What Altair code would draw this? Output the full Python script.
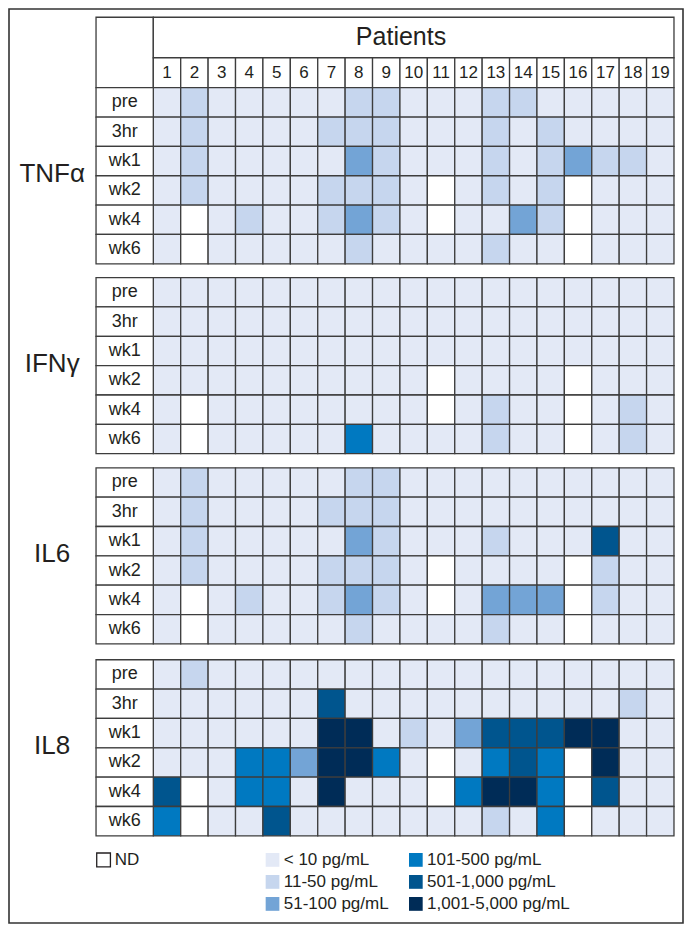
import altair as alt
import pandas as pd

# ---------------- data ----------------
patients = list(range(1, 20))
timepoints = ["pre", "3hr", "wk1", "wk2", "wk4", "wk6"]
cytokines = ["TNFα", "IFNγ", "IL6", "IL8"]

# level codes: 0 = ND, 1 = <10, 2 = 11-50, 3 = 51-100, 4 = 101-500, 5 = 501-1,000, 6 = 1,001-5,000
level_labels = ["ND", "< 10 pg/mL", "11-50 pg/mL", "51-100 pg/mL",
                "101-500 pg/mL", "501-1,000 pg/mL", "1,001-5,000 pg/mL"]
level_colors = ["#ffffff", "#e3e9f6", "#c6d6ee", "#73a4d6",
                "#0079c1", "#00558e", "#002c57"]

tnfa = [
    [1, 2, 1, 1, 1, 1, 1, 2, 2, 1, 1, 1, 2, 2, 1, 1, 1, 1, 1],
    [1, 2, 1, 1, 1, 1, 2, 2, 2, 1, 1, 1, 2, 1, 2, 1, 1, 1, 1],
    [1, 2, 1, 1, 1, 1, 1, 3, 2, 1, 1, 1, 2, 1, 2, 3, 2, 2, 1],
    [1, 2, 1, 1, 1, 1, 2, 2, 2, 1, 0, 1, 2, 1, 2, 0, 1, 1, 1],
    [1, 0, 1, 2, 1, 1, 2, 3, 2, 1, 0, 1, 1, 3, 2, 0, 1, 1, 1],
    [1, 0, 1, 1, 1, 1, 1, 2, 1, 1, 1, 1, 2, 1, 1, 0, 1, 1, 1],
]
ifng = [
    [1, 1, 1, 1, 1, 1, 1, 1, 1, 1, 1, 1, 1, 1, 1, 1, 1, 1, 1],
    [1, 1, 1, 1, 1, 1, 1, 1, 1, 1, 1, 1, 1, 1, 1, 1, 1, 1, 1],
    [1, 1, 1, 1, 1, 1, 1, 1, 1, 1, 1, 1, 1, 1, 1, 1, 1, 1, 1],
    [1, 1, 1, 1, 1, 1, 1, 1, 1, 1, 0, 1, 1, 1, 1, 0, 1, 1, 1],
    [1, 0, 1, 1, 1, 1, 1, 1, 1, 1, 0, 1, 2, 1, 1, 0, 1, 2, 1],
    [1, 0, 1, 1, 1, 1, 1, 4, 1, 1, 1, 1, 2, 1, 1, 0, 1, 2, 1],
]
il6 = [
    [1, 2, 1, 1, 1, 1, 1, 2, 2, 1, 1, 1, 1, 1, 1, 1, 1, 1, 1],
    [1, 2, 1, 1, 1, 1, 2, 2, 2, 1, 1, 1, 1, 1, 1, 1, 1, 1, 1],
    [1, 2, 1, 1, 1, 1, 1, 3, 2, 1, 1, 1, 2, 1, 1, 1, 5, 1, 1],
    [1, 2, 1, 1, 1, 1, 2, 2, 2, 1, 0, 1, 1, 1, 1, 0, 2, 1, 1],
    [1, 0, 1, 2, 1, 1, 2, 3, 2, 1, 0, 1, 3, 3, 3, 0, 2, 1, 1],
    [1, 0, 1, 1, 1, 1, 1, 2, 1, 1, 1, 1, 2, 1, 1, 0, 1, 1, 1],
]
il8 = [
    [1, 2, 1, 1, 1, 1, 1, 1, 1, 1, 1, 1, 1, 1, 1, 1, 1, 1, 1],
    [1, 1, 1, 1, 1, 1, 5, 1, 1, 1, 1, 1, 1, 1, 1, 1, 1, 2, 1],
    [1, 1, 1, 1, 1, 1, 6, 6, 1, 2, 1, 3, 5, 5, 5, 6, 6, 1, 1],
    [1, 1, 1, 4, 4, 3, 6, 6, 4, 1, 0, 1, 4, 5, 4, 0, 6, 1, 1],
    [5, 0, 1, 4, 4, 1, 6, 1, 1, 1, 0, 4, 6, 6, 4, 0, 5, 1, 1],
    [4, 0, 1, 1, 5, 1, 1, 1, 1, 1, 1, 1, 2, 1, 4, 0, 1, 1, 1],
]
panel_values = [tnfa, ifng, il6, il8]

# ---------------- layout (in cell units) ----------------
W, H = 674, 914
X_DOMAIN = [-5.266, 19.329]
Y_DOMAIN = [-2.681, 28.46]
LABEL_LEFT = -2.09
PANEL_TOP = [0.0, 6.47, 12.95, 19.49]
HEADER_TOP, HEADER_MID = -2.40, -1.02
PATIENTS_X = 9.04
BIG_LABEL_X = -3.69
LEG_COL_X = [-2.065, 4.10, 9.33]
LEG_ROW_Y = 26.31
LEG_STEP = 0.75
SW_W, SW_H = 0.5, 0.47

GRID = "#3d3d3d"
TXT = "#231f20"
FONT = "Liberation Sans"
NARROW = "Liberation Sans Narrow, Arial Narrow, Liberation Sans"

# ---------------- tables ----------------
cells, rowlabs, biglabs = [], [], []
for ci, (name, vals) in enumerate(zip(cytokines, panel_values)):
    top = PANEL_TOP[ci]
    for ri, tp in enumerate(timepoints):
        for pi, p in enumerate(patients):
            cells.append(dict(cytokine=name, time=tp, patient=p, level=vals[ri][pi],
                              x0=p - 1, x1=p, y0=top + ri, y1=top + ri + 1))
        rowlabs.append(dict(label=tp, x0=LABEL_LEFT, x1=0, xc=LABEL_LEFT / 2,
                            y0=top + ri, y1=top + ri + 1, yc=top + ri + 0.5))
    biglabs.append(dict(label=name, x=BIG_LABEL_X, y=top + 2.93))
cells = pd.DataFrame(cells)
rowlabs = pd.DataFrame(rowlabs)
biglabs = pd.DataFrame(biglabs)

header_boxes = pd.DataFrame(
    [dict(x0=LABEL_LEFT, x1=0, y0=HEADER_TOP, y1=0),
     dict(x0=0, x1=19, y0=HEADER_TOP, y1=HEADER_MID)]
    + [dict(x0=p - 1, x1=p, y0=HEADER_MID, y1=0) for p in patients]
)
numbers = pd.DataFrame(dict(label=[str(p) for p in patients],
                            x=[p - 0.5 for p in patients],
                            y=[HEADER_MID / 2] * len(patients)))
patients_title = pd.DataFrame(dict(label=["Patients"], x=[PATIENTS_X],
                                   y=[(HEADER_TOP + HEADER_MID) / 2]))

leg = []
for lv, lab in enumerate(level_labels):
    col = 0 if lv == 0 else (1 if lv <= 3 else 2)
    row = 0 if lv == 0 else (lv - 1) % 3
    xl = LEG_COL_X[col]
    yc = LEG_ROW_Y + row * LEG_STEP
    leg.append(dict(level=lv, label=lab, x0=xl, x1=xl + SW_W,
                    y0=yc - SW_H / 2, y1=yc + SW_H / 2, xt=xl + SW_W + 0.16, yt=yc))
leg = pd.DataFrame(leg)

# ---------------- chart ----------------
xs = alt.Scale(domain=X_DOMAIN, nice=False, zero=False)
ys = alt.Scale(domain=Y_DOMAIN, nice=False, zero=False, reverse=True)
color = alt.Color("level:O", scale=alt.Scale(domain=list(range(7)), range=level_colors), legend=None)


def rect_enc(base):
    return base.encode(
        x=alt.X("x0:Q", scale=xs, axis=None),
        x2="x1:Q",
        y=alt.Y("y0:Q", scale=ys, axis=None),
        y2="y1:Q",
    )


cell_layer = rect_enc(alt.Chart(cells).mark_rect(stroke=GRID, strokeWidth=1.3)).encode(
    color=color,
    tooltip=["cytokine", "time", "patient", "level"],
)
label_boxes = rect_enc(alt.Chart(rowlabs).mark_rect(fill="white", stroke=GRID, strokeWidth=1.3))
label_text = alt.Chart(rowlabs).mark_text(font=FONT, fontSize=18, color=TXT,
                                          align="center", baseline="middle").encode(
    x=alt.X("xc:Q", scale=xs, axis=None), y=alt.Y("yc:Q", scale=ys, axis=None), text="label:N")
big_text = alt.Chart(biglabs).mark_text(font=FONT, fontSize=26, color=TXT,
                                        align="center", baseline="middle").encode(
    x=alt.X("x:Q", scale=xs, axis=None), y=alt.Y("y:Q", scale=ys, axis=None), text="label:N")
hdr_boxes = rect_enc(alt.Chart(header_boxes).mark_rect(fill="white", stroke=GRID, strokeWidth=1.3))
num_text = alt.Chart(numbers).mark_text(font=NARROW, fontSize=17, color=TXT,
                                        align="center", baseline="middle").encode(
    x=alt.X("x:Q", scale=xs, axis=None), y=alt.Y("y:Q", scale=ys, axis=None), text="label:N")
pat_text = alt.Chart(patients_title).mark_text(font=NARROW, fontSize=25, color=TXT,
                                               align="center", baseline="middle").encode(
    x=alt.X("x:Q", scale=xs, axis=None), y=alt.Y("y:Q", scale=ys, axis=None), text="label:N")

leg_sw = rect_enc(alt.Chart(leg).mark_rect()).encode(
    color=color,
    stroke=alt.condition("datum.level == 0", alt.value("#231f20"), alt.value(None)),
    strokeWidth=alt.condition("datum.level == 0", alt.value(1.3), alt.value(0)),
)
leg_text = alt.Chart(leg).mark_text(font=FONT, fontSize=17, color=TXT,
                                    align="left", baseline="middle").encode(
    x=alt.X("xt:Q", scale=xs, axis=None), y=alt.Y("yt:Q", scale=ys, axis=None), text="label:N")

chart = alt.layer(
    hdr_boxes, pat_text, num_text,
    cell_layer, label_boxes, label_text, big_text,
    leg_sw, leg_text,
).properties(
    width=W, height=H,
    padding={"left": 1, "top": 1, "right": 1, "bottom": 1},
).configure(
    background="white",
    view=alt.ViewConfig(stroke="#333333", strokeWidth=1.6),
)

chart.save("out.html", embed_options={"renderer": "svg", "actions": False})
